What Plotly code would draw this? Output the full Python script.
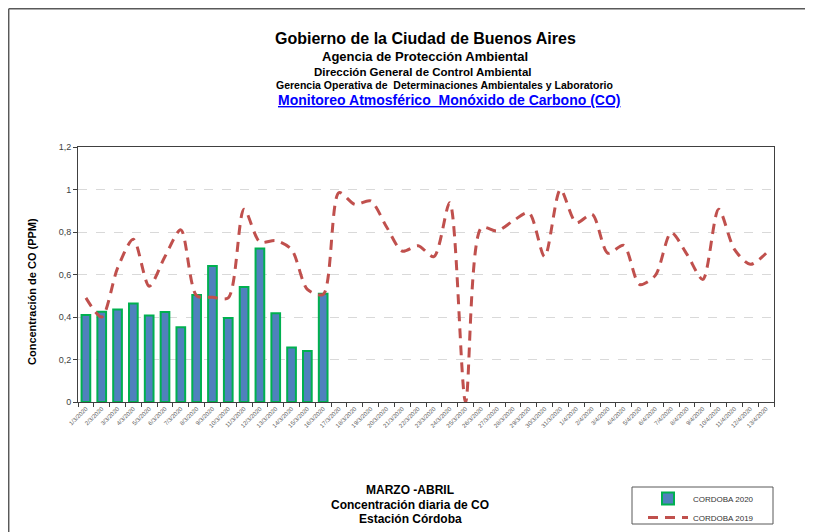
import plotly.graph_objects as go

# categories: 1/3/2020 .. 31/3/2020, 1/4/2020 .. 13/4/2020
fechas = ["%d/3/2020" % d for d in range(1, 32)] + ["%d/4/2020" % d for d in range(1, 14)]

cordoba_2020 = [0.41, 0.425, 0.435, 0.463, 0.407, 0.423, 0.352, 0.503, 0.64, 0.395,
                0.541, 0.722, 0.418, 0.256, 0.24, 0.51]

cordoba_2019 = [0.49, 0.40, 0.63, 0.766, 0.545, 0.685, 0.81, 0.50, 0.493, 0.49,
                0.907, 0.753, 0.76, 0.718, 0.53, 0.506, 0.985, 0.93, 0.946, 0.825,
                0.71, 0.735, 0.684, 0.938, 0.0, 0.82, 0.805, 0.852, 0.891, 0.684,
                1.0, 0.844, 0.883, 0.70, 0.737, 0.553, 0.596, 0.797, 0.695, 0.577,
                0.907, 0.718, 0.648, 0.70]

FONT = "Arial, Liberation Sans, sans-serif"

# the page body adds an 8px margin, so the figure is 8px smaller and every
# position below (given in window pixels) is shifted by OFF
OFF = 8
W, H = 813 - OFF, 532 - OFF
L, R, T, B = 78 - OFF, 774 - OFF, 147 - OFF, 402 - OFF


def px_x(x):
    return (x - OFF - L) / (R - L)


def px_y(y):
    return (B - (y - OFF)) / (B - T)


fig = go.Figure()
fig.add_trace(go.Bar(
    x=fechas[:len(cordoba_2020)], y=cordoba_2020, name="CORDOBA 2020",
    marker=dict(color="#4F81BD", line=dict(color="#00B050", width=2))))
fig.add_trace(go.Scatter(
    x=fechas, y=cordoba_2019, name="CORDOBA 2019", mode="lines",
    line=dict(color="#C0504D", width=3, dash="10px,7px", shape="spline", smoothing=0.8)))

titulos = [
    ("Gobierno de la Ciudad de Buenos Aires", 425, 39, 16, "black", False),
    ("Agencia de Protección Ambiental", 425, 57, 13, "black", False),
    ("Dirección General de Control Ambiental", 422, 72, 11.5, "black", False),
    ("Gerencia Operativa de  Determinaciones Ambientales y Laboratorio", 444, 85, 10.5, "black", False),
    ("Monitoreo Atmosférico  Monóxido de Carbono (CO)", 449, 100, 14, "#0000FF", True),
    ("MARZO -ABRIL", 410, 490, 12, "black", False),
    ("Concentración diaria de CO", 410, 505, 12, "black", False),
    ("Estación Córdoba", 410, 519, 12, "black", False),
]
for txt, x, y, size, color, underline in titulos:
    t = "<b>%s</b>" % txt
    if underline:
        t = "<u>%s</u>" % t
    fig.add_annotation(text=t, x=px_x(x), y=px_y(y), xref="paper", yref="paper",
                       showarrow=False, xanchor="center", yanchor="middle",
                       font=dict(family=FONT, size=size, color=color))

fig.add_annotation(text="<b>Concentración de CO (PPM)</b>", x=px_x(32), y=px_y(292),
                   xref="paper", yref="paper", showarrow=False, textangle=-90,
                   xanchor="center", yanchor="middle",
                   font=dict(family=FONT, size=11, color="black"))

# page frame and legend box
fig.add_shape(type="line", xref="paper", yref="paper", x0=px_x(8.7), x1=px_x(813),
              y0=px_y(8.7), y1=px_y(8.7), line=dict(color="#595959", width=1.5))
fig.add_shape(type="line", xref="paper", yref="paper", x0=px_x(8.7), x1=px_x(8.7),
              y0=px_y(8.7), y1=px_y(540), line=dict(color="#595959", width=1.5))
fig.add_shape(type="rect", xref="paper", yref="paper", x0=px_x(632), x1=px_x(773),
              y0=px_y(487), y1=px_y(524), line=dict(color="#595959", width=1))

fig.update_layout(
    width=W, height=H,
    margin=dict(l=L, r=W - R, t=T, b=H - B, pad=0, autoexpand=False),
    paper_bgcolor="white", plot_bgcolor="white",
    separators=",.",
    bargap=0.45,
    showlegend=True,
    legend=dict(x=px_x(643), y=px_y(484), xanchor="left", yanchor="top",
                font=dict(family=FONT, size=8, color="#333333"),
                bgcolor="rgba(0,0,0,0)", itemwidth=40, tracegroupgap=0),
    font=dict(family=FONT),
    xaxis=dict(type="category", categoryorder="array", categoryarray=fechas,
               range=[-0.5, len(fechas) - 0.5], automargin=False,
               showline=True, linecolor="#404040", linewidth=1, mirror=True,
               ticks="outside", tickson="boundaries", ticklen=4, tickcolor="#404040",
               tickangle=-45, tickfont=dict(family=FONT, size=6, color="#595959"),
               showgrid=False),
    yaxis=dict(range=[0, 1.2], dtick=0.2, showline=True, linecolor="#404040",
               linewidth=1, mirror=True, ticks="outside", ticklen=4, tickcolor="#404040",
               tickfont=dict(family=FONT, size=9, color="#404040"), automargin=False,
               showgrid=True, gridcolor="#D9D9D9", griddash="dash", zeroline=False),
)

fig.write_html("out.html")
